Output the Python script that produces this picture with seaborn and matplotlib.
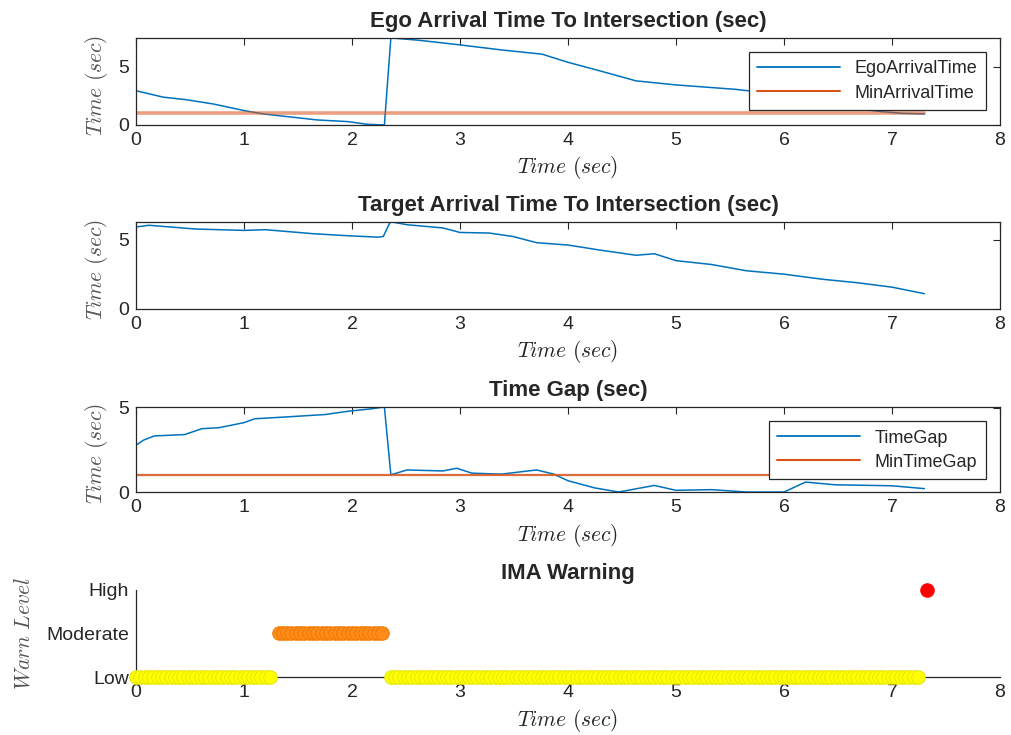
import numpy as np
import pandas as pd
import seaborn as sns
import matplotlib.pyplot as plt
from matplotlib.lines import Line2D

# ---- data ----
ego_t = [0, 0.25, 0.47, 0.72, 1.0, 1.18, 1.4, 1.68, 1.96, 2.14, 2.3, 2.36, 2.62, 3.0,
         3.38, 3.76, 4.0, 4.3, 4.63, 5.0, 5.55, 6.0, 6.3, 6.64, 6.9, 7.1, 7.3]
ego_v = [2.95, 2.4, 2.17, 1.8, 1.24, 0.95, 0.72, 0.43, 0.29, 0.06, 0.0, 7.5, 7.3, 6.9,
         6.47, 6.1, 5.4, 4.65, 3.8, 3.45, 3.07, 2.6, 2.1, 1.44, 1.15, 1.0, 0.95]
min_arrival = 1.0

target_t = [0, 0.12, 0.55, 1.0, 1.2, 1.64, 1.97, 2.24, 2.29, 2.35, 2.37, 2.51, 2.84, 3.0,
            3.27, 3.49, 3.71, 4.0, 4.3, 4.63, 4.8, 5.0, 5.33, 5.65, 6.0, 6.36, 6.68, 7.0, 7.3]
target_v = [5.94, 6.06, 5.79, 5.69, 5.74, 5.45, 5.3, 5.2, 5.25, 6.24, 6.3, 6.1, 5.87, 5.54,
            5.5, 5.25, 4.8, 4.63, 4.26, 3.89, 4.0, 3.5, 3.22, 2.77, 2.52, 2.15, 1.9, 1.58, 1.11]

gap_t = [0, 0.07, 0.17, 0.45, 0.61, 0.77, 1.0, 1.1, 1.37, 1.75, 1.97, 2.18, 2.3, 2.36,
         2.51, 2.84, 2.97, 3.11, 3.38, 3.71, 3.87, 4.0, 4.25, 4.47, 4.8, 5.0, 5.33, 5.65,
         6.0, 6.2, 6.47, 7.0, 7.3]
gap_v = [2.78, 3.08, 3.33, 3.41, 3.76, 3.82, 4.12, 4.35, 4.45, 4.6, 4.8, 4.94, 5.05, 1.02,
         1.31, 1.25, 1.41, 1.12, 1.06, 1.31, 1.06, 0.67, 0.24, 0.0, 0.39, 0.1, 0.14, 0.0,
         0.0, 0.59, 0.43, 0.37, 0.2]
min_gap = 1.0

# warning level per sample: (level, first sample time, last sample time)
warn_levels = ["Low", "Moderate", "High"]
warn_segments = [("Low", 0.0, 1.24), ("Moderate", 1.32, 2.28),
                 ("Low", 2.36, 7.24), ("High", 7.32, 7.32)]
sample_dt = 0.04

rows = []
for lvl, t0, t1 in warn_segments:
    n = int(round((t1 - t0) / sample_dt)) + 1
    for k in range(n):
        rows.append((t0 + k * sample_dt, warn_levels.index(lvl) + 1, lvl))
warn = pd.DataFrame(rows, columns=["t", "level", "name"])

BLUE = "#0072BD"
ORANGE = "#D95319"
TXT = "#262626"

sns.set_style("white")
plt.rcParams["font.family"] = ["Liberation Sans", "DejaVu Sans"]
plt.rcParams["mathtext.fontset"] = "cm"
plt.rcParams["text.color"] = TXT
plt.rcParams["axes.labelcolor"] = TXT
plt.rcParams["xtick.color"] = TXT
plt.rcParams["ytick.color"] = TXT

fig = plt.figure(figsize=(10.11, 7.35), dpi=100)
L, W, H = 0.1345, 0.8546, 0.1184
ax1 = fig.add_axes([L, 0.830, W, H])
ax2 = fig.add_axes([L, 0.5796, W, H])
ax3 = fig.add_axes([L, 0.3306, W, 0.1157])
ax4 = fig.add_axes([L, 0.0789, W, H])

xlab = r"$Time\ (sec)$"
ylab = r"$Time\ (sec)$"
TICK_FS = 14
TITLE_FS = 16


def style_box(ax, title, ymax):
    ax.set_xlim(0, 8)
    ax.set_ylim(0, ymax)
    ax.set_xticks(range(9))
    ax.set_yticks([0, 5])
    ax.tick_params(direction="in", top=True, right=True, length=5, width=0.8,
                   labelsize=TICK_FS, pad=5)
    for s in ax.spines.values():
        s.set_color(TXT)
        s.set_linewidth(0.9)
        s.set_visible(True)
    ax.set_title(title, fontsize=TITLE_FS, fontweight="bold", pad=8)
    ax.set_xlabel(xlab, fontsize=15.5, labelpad=4)
    ax.set_ylabel(ylab, fontsize=15.5, color="#555555")
    ax.yaxis.set_label_coords(-0.030, 0.45)


def add_legend(ax, labels):
    handles = [Line2D([], [], color=BLUE, lw=1.3), Line2D([], [], color=ORANGE, lw=1.5)]
    leg = ax.legend(handles, labels, loc="upper right", fontsize=13, handlelength=4.6,
                    fancybox=False, framealpha=1, edgecolor=TXT, borderpad=0.45,
                    labelspacing=0.4, borderaxespad=0.8)
    leg.get_frame().set_linewidth(0.9)


# subplot 1
sns.lineplot(x=ego_t, y=ego_v, ax=ax1, color=BLUE, lw=1.1, estimator=None)
sns.lineplot(x=ego_t, y=[min_arrival] * len(ego_t), ax=ax1, color=ORANGE, lw=2.6,
             alpha=0.55, estimator=None)
style_box(ax1, "Ego Arrival Time To Intersection (sec)", max(ego_v))
add_legend(ax1, ["EgoArrivalTime", "MinArrivalTime"])

# subplot 2
sns.lineplot(x=target_t, y=target_v, ax=ax2, color=BLUE, lw=1.1, estimator=None)
style_box(ax2, "Target Arrival Time To Intersection (sec)", max(target_v))

# subplot 3
sns.lineplot(x=gap_t, y=gap_v, ax=ax3, color=BLUE, lw=1.1, estimator=None)
sns.lineplot(x=gap_t, y=[min_gap] * len(gap_t), ax=ax3, color=ORANGE, lw=1.6,
             alpha=0.85, estimator=None)
style_box(ax3, "Time Gap (sec)", max(gap_v))
add_legend(ax3, ["TimeGap", "MinTimeGap"])

# subplot 4
face = {"Low": "#FFFF00", "Moderate": "#FF8C1A", "High": "#FF0000"}
edge = {"Low": "#E6E600", "Moderate": "#F07A00", "High": "#FF0000"}
for lvl in warn_levels:
    d = warn[warn["name"] == lvl]
    sns.scatterplot(data=d, x="t", y="level", ax=ax4, color=face[lvl], s=95,
                    edgecolor=edge[lvl], linewidth=0.7, clip_on=False, zorder=3,
                    legend=False)
ax4.set_xlim(0, 8)
ax4.set_ylim(1, 3)
ax4.set_xticks(range(9))
ax4.set_yticks([1, 2, 3])
ax4.set_yticklabels(warn_levels)
ax4.tick_params(direction="in", length=5, width=0.8, labelsize=TICK_FS, pad=5)
for side in ["top", "right"]:
    ax4.spines[side].set_visible(False)
for side in ["left", "bottom"]:
    ax4.spines[side].set_color(TXT)
    ax4.spines[side].set_linewidth(0.9)
ax4.set_title("IMA Warning", fontsize=TITLE_FS, fontweight="bold", pad=8)
ax4.set_xlabel(xlab, fontsize=15.5, labelpad=4)
ax4.set_ylabel(r"$Warn\ Level$", fontsize=15.5, color="#555555")
ax4.yaxis.set_label_coords(-0.117, 0.5)

fig.savefig("out.png", dpi=100)
